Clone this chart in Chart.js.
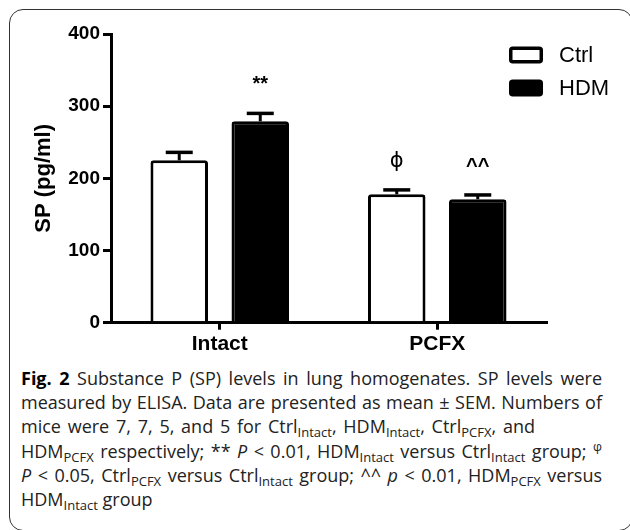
<!DOCTYPE html>
<html>
<head>
<meta charset="utf-8">
<script src="https://cdn.jsdelivr.net/npm/chart.js@4.4.1/dist/chart.umd.min.js"></script>
<style>
  body { margin: 0; background: #fff; width: 630px; height: 530px; overflow: hidden; position: relative; }
  #card { position: absolute; left: 9px; top: 9px; width: 624px; height: 522px; box-sizing: border-box;
          border: 1.6px solid #333; border-radius: 14px; background: #fff; }
  #chart { position: absolute; left: 0; top: 0; }
  #caption { position: absolute; left: 21px; top: 366px; width: 581px; font-family: "Open Sans", sans-serif;
             font-size: 18px; line-height: 24.2px; color: #222; }
  #caption div { text-align: justify; text-align-last: justify; white-space: nowrap; }
  #caption div.short { width: 514px; }
  #caption div.last { text-align-last: left; }
  #caption sub { font-size: 13px; vertical-align: -4px; line-height: 0; }
  #caption sup { font-size: 12.5px; vertical-align: 7px; line-height: 0; }
</style>
</head>
<body>
<div id="card"></div>
<canvas id="chart" width="630" height="365"></canvas>
<div id="caption">
  <div><b style="color:#000">Fig. 2</b> Substance P (SP) levels in lung homogenates. SP levels were</div>
  <div>measured by ELISA. Data are presented as mean ± SEM. Numbers of</div>
  <div class="short">mice were 7, 7, 5, and 5 for Ctrl<sub>Intact</sub>, HDM<sub>Intact</sub>, Ctrl<sub>PCFX</sub>, and</div>
  <div>HDM<sub>PCFX</sub> respectively; ** <i>P</i> &lt; 0.01, HDM<sub>Intact</sub> versus Ctrl<sub>Intact</sub> group; <sup>φ</sup></div>
  <div><i>P</i> &lt; 0.05, Ctrl<sub>PCFX</sub> versus Ctrl<sub>Intact</sub> group; ^^ <i>p</i> &lt; 0.01, HDM<sub>PCFX</sub> versus</div>
  <div class="last">HDM<sub>Intact</sub> group</div>
</div>
<script>
// values
const groups = ['Intact', 'PCFX'];
const seriesNames = ['Ctrl', 'HDM'];
const ctrlMean = [225, 178];
const hdmMean = [279, 171];
const ctrlSem = [11, 6];
const hdmSem = [11, 6];
const ctrlMarks = ['', 'ϕ'];
const hdmMarks = ['**', '^^'];
const yTicks = [0, 100, 200, 300, 400];

const axisFont = 'Arial, "Liberation Sans", sans-serif';

// one-sided SEM bars plus significance marks
const errorBars = {
  id: 'errorBars',
  afterDatasetsDraw(chart) {
    const ctx = chart.ctx;
    const y = chart.scales.y;
    chart.data.datasets.forEach((ds, i) => {
      chart.getDatasetMeta(i).data.forEach((bar, j) => {
        const top = y.getPixelForValue(ds.data[j] + ds.sem[j]);
        ctx.save();
        ctx.strokeStyle = '#000';
        ctx.lineWidth = 3;
        ctx.beginPath();
        ctx.moveTo(bar.x, bar.y);
        ctx.lineTo(bar.x, top);
        ctx.stroke();
        ctx.lineWidth = 3.5;
        ctx.beginPath();
        ctx.moveTo(bar.x - 13.5, top);
        ctx.lineTo(bar.x + 13.5, top);
        ctx.stroke();
        const mark = ds.marks[j];
        if (mark) {
          ctx.fillStyle = '#000';
          ctx.textAlign = 'center';
          ctx.textBaseline = 'alphabetic';
          ctx.font = mark === 'ϕ' ? '21px "DejaVu Sans"' : 'bold 20px ' + axisFont;
          ctx.fillText(mark, bar.x, top - 23);
        }
        ctx.restore();
      });
    });
  }
};

// legend stacked in the top right corner
const boxLegend = {
  id: 'boxLegend',
  afterDraw(chart) {
    const ctx = chart.ctx;
    const x0 = 509, w = 34, h = 17;
    const centers = [55, 88];
    chart.data.datasets.forEach((ds, i) => {
      const cy = centers[i];
      ctx.save();
      ctx.fillStyle = ds.backgroundColor;
      ctx.strokeStyle = ds.borderColor;
      ctx.lineWidth = 3.5;
      ctx.beginPath();
      ctx.roundRect(x0 + 1.75, cy - h / 2 + 1.75, w - 3.5, h - 3.5, 2);
      ctx.fill();
      ctx.stroke();
      ctx.fillStyle = '#000';
      ctx.font = '22px ' + axisFont;
      ctx.textAlign = 'left';
      ctx.textBaseline = 'middle';
      ctx.fillText(ds.label, 559, cy + 1);
      ctx.restore();
    });
  }
};

new Chart(document.getElementById('chart'), {
  type: 'bar',
  data: {
    labels: groups,
    datasets: [{
      label: seriesNames[0],
      data: ctrlMean,
      sem: ctrlSem,
      marks: ctrlMarks,
      backgroundColor: '#fff',
      borderColor: '#000',
      borderWidth: 3,
      borderRadius: 3
    }, {
      label: seriesNames[1],
      data: hdmMean,
      sem: hdmSem,
      marks: hdmMarks,
      backgroundColor: '#000',
      borderColor: '#000',
      borderWidth: 3,
      borderRadius: 3
    }]
  },
  options: {
    responsive: false,
    animation: false,
    categoryPercentage: 0.745,
    barPercentage: 0.71,
    layout: { padding: { top: 34, right: 84, left: 0, bottom: 0 } },
    plugins: { legend: { display: false }, tooltip: { enabled: false } },
    scales: {
      x: {
        offset: true,
        grid: { display: true, offset: false, drawOnChartArea: false, color: '#000', lineWidth: 3, tickLength: 7 },
        border: { display: true, color: '#000', width: 3 },
        ticks: { color: '#000', font: { family: axisFont, size: 21, weight: 'bold' }, padding: 2 },
        afterFit: (axis) => { axis.height = 365 - 322.7; }
      },
      y: {
        min: 0,
        max: 400,
        afterBuildTicks: (axis) => { axis.ticks = yTicks.map(v => ({ value: v })); },
        grid: { display: true, drawOnChartArea: false, color: '#000', lineWidth: 3, tickLength: 8 },
        border: { display: true, color: '#000', width: 3 },
        ticks: { color: '#000', font: { family: axisFont, size: 19, weight: 'bold' }, padding: 3 },
        title: {
          display: true,
          text: 'SP (pg/ml)',
          color: '#000',
          font: { family: axisFont, size: 22, weight: 'bold' },
          padding: { top: 31, bottom: 0 }
        },
        afterFit: (axis) => { axis.width = 111; }
      }
    }
  },
  plugins: [errorBars, boxLegend]
});
</script>
</body>
</html>
